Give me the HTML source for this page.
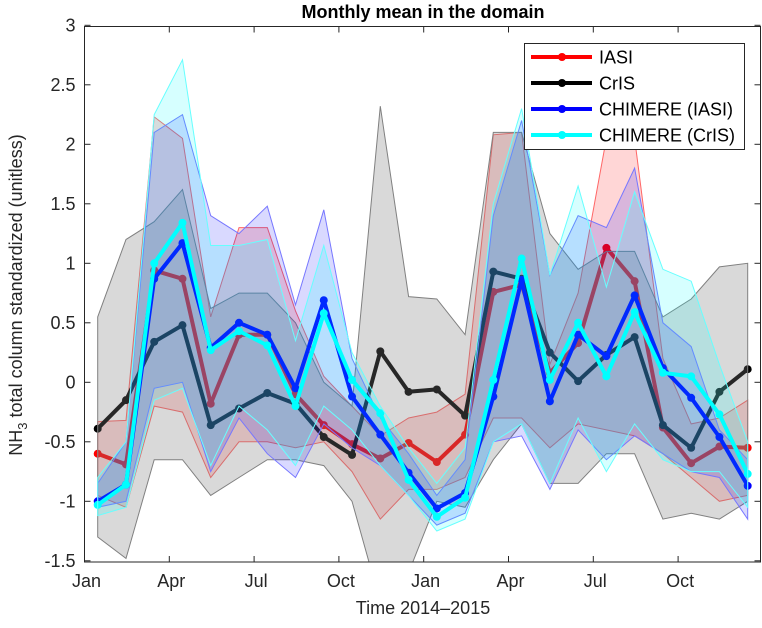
<!DOCTYPE html>
<html><head><meta charset="utf-8"><style>
body{margin:0;background:#fff;}
svg text{font-family:"Liberation Sans",Arial,sans-serif;}
</style></head><body>
<svg id="chart" width="762" height="623" xmlns="http://www.w3.org/2000/svg">
<defs><clipPath id="plotclip"><rect x="84.5" y="26.5" width="676" height="535.5"/></clipPath></defs>
<rect width="762" height="623" fill="#fff"/>
<g id="bands" clip-path="url(#plotclip)"></g>
<g id="axes"></g>
</svg>
<script>
const months = ['2014-01','2014-02','2014-03','2014-04','2014-05','2014-06','2014-07','2014-08','2014-09','2014-10','2014-11','2014-12','2015-01','2015-02','2015-03','2015-04','2015-05','2015-06','2015-07','2015-08','2015-09','2015-10','2015-11','2015-12'];
const tickLabels = ['Jan','Apr','Jul','Oct','Jan','Apr','Jul','Oct'];
const yTicks = [-1.5,-1,-0.5,0,0.5,1,1.5,2,2.5,3];
const iasiMean = [-0.60,-0.69,0.94,0.87,-0.18,0.40,0.40,-0.10,-0.36,-0.52,-0.64,-0.51,-0.67,-0.44,0.76,0.82,0.08,0.33,1.13,0.85,-0.38,-0.68,-0.54,-0.55];
const iasiUpper = [-0.33,-0.32,2.23,2.05,0.55,1.3,1.3,0.6,0.05,-0.2,-0.45,-0.3,-0.25,-0.1,2.08,2.1,0.15,0.75,2.05,2.05,0.2,-0.35,-0.3,-0.15];
const iasiLower = [-0.95,-1.05,-0.2,-0.25,-0.8,-0.5,-0.5,-0.55,-0.5,-0.75,-1.15,-0.9,-0.9,-0.8,-0.3,-0.3,-0.55,-0.35,-0.4,-0.45,-0.6,-0.8,-1.0,-0.95];
const crisMean = [-0.39,-0.15,0.34,0.48,-0.36,-0.22,-0.09,-0.18,-0.46,-0.61,0.26,-0.08,-0.06,-0.28,0.93,0.87,0.25,0.01,0.23,0.38,-0.36,-0.55,-0.08,0.11];
const crisUpper = [0.55,1.2,1.35,1.62,0.62,0.75,0.75,0.5,0.0,-0.2,2.32,0.72,0.7,0.4,2.1,2.1,1.25,0.95,1.1,1.1,0.55,0.7,0.97,1.0];
const crisLower = [-1.3,-1.48,-0.65,-0.65,-0.95,-0.8,-0.65,-0.65,-0.7,-1.0,-1.85,-1.6,-1.0,-1.05,-0.65,-0.35,-0.85,-0.85,-0.6,-0.6,-1.15,-1.1,-1.15,-1.0];
const chimIasiMean = [-1.0,-0.86,0.87,1.17,0.29,0.50,0.40,-0.05,0.69,-0.12,-0.44,-0.76,-1.06,-0.93,-0.12,0.86,-0.16,0.40,0.22,0.73,0.12,-0.13,-0.46,-0.87];
const chimIasiUpper = [-0.85,-0.5,2.1,2.25,1.4,1.25,1.48,0.65,1.45,0.2,-0.3,-0.6,-0.95,-0.65,1.4,2.2,0.9,1.4,1.3,1.8,0.5,0.3,-0.4,-0.65];
const chimIasiLower = [-1.05,-1.0,-0.05,0.0,-0.75,-0.3,-0.6,-0.8,-0.35,-0.55,-0.7,-0.95,-1.2,-1.1,-0.5,-0.45,-0.9,-0.4,-0.65,-0.45,-0.6,-0.75,-0.8,-1.15];
const chimCrisMean = [-1.03,-0.86,1.0,1.34,0.27,0.43,0.31,-0.20,0.58,0.02,-0.26,-0.82,-1.13,-0.97,0.02,1.04,0.02,0.50,0.05,0.59,0.08,0.05,-0.27,-0.77];
const chimCrisUpper = [-0.8,-0.5,2.25,2.71,1.15,1.15,1.2,0.35,1.15,0.25,-0.2,-0.55,-0.85,-0.55,1.5,2.3,0.9,1.65,0.8,1.6,0.95,0.85,0.15,-0.5];
const chimCrisLower = [-1.12,-1.05,-0.15,-0.05,-0.7,-0.2,-0.4,-0.7,-0.2,-0.4,-0.7,-0.95,-1.25,-1.15,-0.5,-0.35,-0.85,-0.3,-0.75,-0.35,-0.65,-0.75,-0.75,-1.05];

const NS='http://www.w3.org/2000/svg';
const L=84.5,R=760.5,T=26.5,B=562;
function xs(i){return 97.7+28.26*i;}
function ys(v){return 382.3-119*v;}
function mk(tag,attrs,parent){const e=document.createElementNS(NS,tag);for(const k in attrs)e.setAttribute(k,attrs[k]);parent.appendChild(e);return e;}
const svg=document.getElementById('chart');
const bands=document.getElementById('bands');
const axes=document.getElementById('axes');

const series=[
 {name:'iasi',mean:iasiMean,up:iasiUpper,lo:iasiLower,line:'#ff0000',fill:'#ff0000',fo:0.16,edge:'#ff6666'},
 {name:'cris',mean:crisMean,up:crisUpper,lo:crisLower,line:'#000000',fill:'#808080',fo:0.3,edge:'#808080'},
 {name:'chimere-iasi',mean:chimIasiMean,up:chimIasiUpper,lo:chimIasiLower,line:'#0000ff',fill:'#0000ff',fo:0.15,edge:'#7777ff'},
 {name:'chimere-cris',mean:chimCrisMean,up:chimCrisUpper,lo:chimCrisLower,line:'#00ffff',fill:'#00ffff',fo:0.16,edge:'#66ffff'}
];
series.forEach(s=>{
  const pts=s.mean.map((v,i)=>xs(i).toFixed(1)+','+ys(v).toFixed(1)).join(' ');
  const g=mk('g',{},bands);
  
  
  const pl=mk('polyline',{points:pts,fill:'none',stroke:s.line,'stroke-width':4,'stroke-linejoin':'round'},g);
  
  
  s.mean.forEach((v,i)=>{
    const c=mk('circle',{cx:xs(i),cy:ys(v),r:4,fill:s.line},g);
    
    
  });
  const up=s.up.map((v,i)=>xs(i).toFixed(1)+','+ys(v).toFixed(1));
  const lo=s.lo.map((v,i)=>xs(i).toFixed(1)+','+ys(v).toFixed(1)).reverse();
  const band=mk('polygon',{points:up.concat(lo).join(' '),fill:s.fill,'fill-opacity':s.fo,stroke:s.edge,'stroke-width':1},g);
  
  
});

const box=mk('rect',{x:L,y:T,width:R-L,height:B-T,fill:'none',stroke:'#262626','stroke-width':1},axes);


yTicks.forEach(v=>{
  const y=ys(v);
  mk('line',{x1:L,x2:L+6,y1:y,y2:y,stroke:'#262626'},axes);
  mk('line',{x1:R,x2:R-6,y1:y,y2:y,stroke:'#262626'},axes);
  const t=mk('text',{x:L-9,y:y+6,'text-anchor':'end','font-size':18,fill:'#262626'},axes);
  t.textContent=String(v);
  
  
});
tickLabels.forEach((lab,k)=>{
  const x=L+84.8*k;
  mk('line',{x1:x,x2:x,y1:B,y2:B-6,stroke:'#262626'},axes);
  mk('line',{x1:x,x2:x,y1:T,y2:T+6,stroke:'#262626'},axes);
  const t=mk('text',{x:x+2,y:587,'text-anchor':'middle','font-size':18,fill:'#262626'},axes);
  t.textContent=lab;
  
  
});
</script>
<svg style="position:absolute;left:0;top:0" width="762" height="623" xmlns="http://www.w3.org/2000/svg">
<text x="423" y="18" text-anchor="middle" font-size="18" font-weight="bold" fill="#000">Monthly mean in the domain</text>
<text x="423" y="614" text-anchor="middle" font-size="18" fill="#262626">Time 2014–2015</text>
<text transform="translate(22,295) rotate(-90)" text-anchor="middle" font-size="18" fill="#262626">NH<tspan font-size="13" dy="5">3</tspan><tspan dy="-5"> total column standardized (unitless)</tspan></text>
<g>
<rect x="524.5" y="43.5" width="220" height="106" fill="#fff" stroke="#262626"/>
<g><line x1="531" x2="592" y1="57" y2="57" stroke="#ff0000" stroke-width="4"/><circle cx="562" cy="57" r="4" fill="#ff0000"/><text x="599" y="63.5" font-size="18" fill="#000">IASI</text></g>
<g><line x1="531" x2="592" y1="83" y2="83" stroke="#000" stroke-width="4"/><circle cx="562" cy="83" r="4" fill="#000"/><text x="599" y="89.5" font-size="18" fill="#000">CrIS</text></g>
<g><line x1="531" x2="592" y1="109" y2="109" stroke="#0000ff" stroke-width="4"/><circle cx="562" cy="109" r="4" fill="#0000ff"/><text x="599" y="115.5" font-size="18" fill="#000">CHIMERE (IASI)</text></g>
<g><line x1="531" x2="592" y1="135" y2="135" stroke="#00ffff" stroke-width="4"/><circle cx="562" cy="135" r="4" fill="#00ffff"/><text x="599" y="141.5" font-size="18" fill="#000">CHIMERE (CrIS)</text></g>
</g>
</svg>
</body></html>
